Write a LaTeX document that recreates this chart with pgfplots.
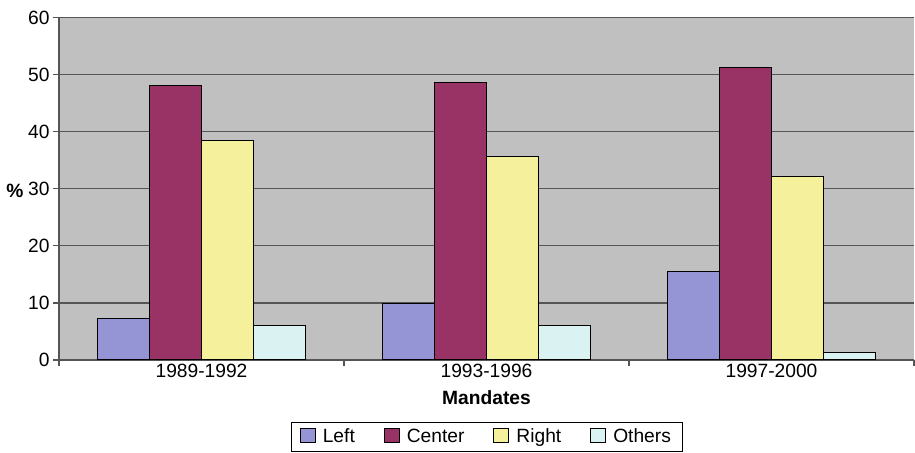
\documentclass[border=0pt]{standalone}
\usepackage{fontspec}
\setmainfont{Liberation Sans}
\usepackage{pgfplots}
\pgfplotsset{compat=1.18}
\definecolor{cLeft}{RGB}{149,149,214}
\definecolor{cCenter}{RGB}{153,51,102}
\definecolor{cRight}{RGB}{245,240,155}
\definecolor{cOthers}{RGB}{218,242,242}
\definecolor{bgc}{RGB}{192,192,192}
\definecolor{gridc}{RGB}{85,85,85}
\begin{document}
\begin{tikzpicture}
\begin{axis}[
  name=ax,
  scale only axis,
  width=427.5pt, height=171.15pt,
  ybar=0pt, bar width=0.1825,
  xmin=-0.5, xmax=2.5,
  ymin=0, ymax=60,
  ytick={0,10,...,60},
  xtick={-0.5,0.5,1.5,2.5},
  xticklabels={},
  extra x ticks={0,1,2},
  extra x tick labels={1989-1992,1993-1996,1997-2000},
  extra x tick style={major tick length=0pt, grid=none},
  axis lines=left,
  axis line style={gridc, line width=0.6pt, -},
  axis background/.style={fill=bgc},
  ymajorgrids,
  grid style={gridc, line width=0.6pt},
  tick align=outside,
  major tick length=3pt,
  tick style={gridc, line width=0.6pt},
  /pgf/number format/assume math mode=true,
  tick label style={font=\fontsize{9.6}{11.5}\selectfont},
  yticklabel style={inner sep=1.5pt},
  xticklabel style={inner sep=2pt},
  xlabel={\textbf{Mandates}},
  xlabel style={font=\fontsize{9.6}{11.5}\selectfont, at={(axis description cs:0.5,-0.111)}, anchor=center},
  ylabel={\textbf{\%}},
  ylabel style={font=\fontsize{9.6}{11.5}\selectfont, rotate=-90, at={(axis description cs:-0.0515,0.495)}, anchor=center},
  legend columns=4,
  legend style={at={(axis description cs:0.501,-0.18)}, anchor=north, draw=black, line width=0.5pt,
    font=\fontsize{9.6}{11.5}\selectfont, inner xsep=4pt, inner ysep=1.2pt,
    /tikz/every even column/.append style={column sep=12.5pt},
    /tikz/every odd column/.append style={column sep=1.5pt}},
  legend image code/.code={\draw[#1, line width=0.5pt] (0pt,-3pt) rectangle (7.5pt,4pt);},
]
\addplot[fill=cLeft, draw=black, line width=0.5pt] coordinates {(0,7.3) (1,9.9) (2,15.5)};
\addplot[fill=cCenter, draw=black, line width=0.5pt] coordinates {(0,48.1) (1,48.6) (2,51.3)};
\addplot[fill=cRight, draw=black, line width=0.5pt] coordinates {(0,38.5) (1,35.6) (2,32.1)};
\addplot[fill=cOthers, draw=black, line width=0.5pt] coordinates {(0,6.0) (1,6.0) (2,1.3)};
\legend{Left,Center,Right,Others}
\end{axis}
\pgfresetboundingbox
\path ([xshift=-29.5pt,yshift=-46.5pt]ax.south west) rectangle ([xshift=0.5pt,yshift=8.85pt]ax.north east);
\end{tikzpicture}
\end{document}
